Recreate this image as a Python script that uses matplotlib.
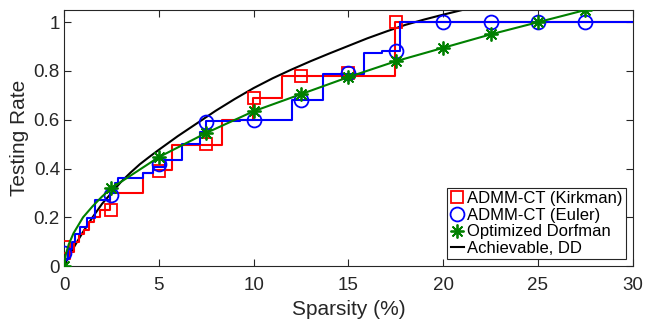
import numpy as np
import matplotlib.pyplot as plt
from matplotlib.lines import Line2D

plt.rcParams['font.family'] = ['Liberation Sans', 'DejaVu Sans']

# ADMM-CT (Kirkman) step curve
kirk_x = [0, 0.3, 0.55, 0.8, 1.05, 1.3, 1.6, 1.9, 2.42, 4.18, 4.7, 5.67, 8.31, 9.98, 11.5, 17.45, 30]
kirk_y = [0.03, 0.06, 0.10, 0.13, 0.15, 0.18, 0.20, 0.23, 0.30, 0.38, 0.395, 0.496, 0.598, 0.69, 0.78, 1.0, 1.0]
kirk_mx = [0, 2.5, 5, 7.5, 10, 12.5, 15, 17.5]
kirk_my = [0.08, 0.23, 0.39, 0.50, 0.69, 0.78, 0.79, 1.0]

# ADMM-CT (Euler) step curve
euler_x = [0, 0.2, 0.4, 0.6, 0.85, 1.2, 1.63, 2.42, 2.7, 2.87, 4.18, 4.7, 5.3, 6.2, 7.17, 7.5,
           9.28, 12.0, 13.67, 15.83, 16.75, 17.7, 30]
euler_y = [0.03, 0.07, 0.10, 0.13, 0.16, 0.197, 0.27, 0.30, 0.34, 0.36, 0.38, 0.407, 0.434, 0.50,
           0.55, 0.594, 0.60, 0.683, 0.787, 0.872, 0.881, 1.0, 1.0]
euler_mx = [0, 2.5, 5, 7.5, 10, 12.5, 15, 17.5, 20, 22.5, 25, 27.5]
euler_my = [0.055, 0.29, 0.42, 0.59, 0.60, 0.68, 0.79, 0.882, 1.0, 1.0, 1.0, 1.0]

# Optimized Dorfman
dorf_x = [0, 0.1, 0.25, 0.5, 1, 1.5, 2, 2.5, 5, 7.5, 10, 12.5, 15, 17.5, 20, 22.5, 25, 27.5]
dorf_y = [0, 0.05, 0.09, 0.135, 0.2, 0.245, 0.285, 0.32, 0.447, 0.546, 0.635, 0.705, 0.775,
          0.84, 0.895, 0.95, 1.0, 1.05]
dorf_mx = [0, 2.5, 5, 7.5, 10, 12.5, 15, 17.5, 20, 22.5, 25, 27.5]
dorf_my = [0, 0.32, 0.447, 0.546, 0.635, 0.705, 0.775, 0.84, 0.895, 0.95, 1.0, 1.05]

# Achievable, DD
dd_x = [0, 0.25, 0.5, 0.75, 1, 1.5, 2, 2.5, 3, 3.5, 4, 4.5, 5, 6, 7, 8, 9, 10, 11, 12, 13,
        14, 15, 16, 17, 18, 19, 20, 21]
dd_y = [0, 0.04, 0.075, 0.108, 0.14, 0.20, 0.255, 0.30, 0.345, 0.383, 0.418, 0.448, 0.477,
        0.533, 0.585, 0.637, 0.685, 0.73, 0.77, 0.806, 0.84, 0.872, 0.903, 0.934, 0.962,
        0.989, 1.011, 1.031, 1.05]

fig = plt.figure(figsize=(6.47, 3.23), dpi=100)
ax = fig.add_axes([0.099, 0.176, 0.879, 0.793])

lw = 1.5
ax.plot(dd_x, dd_y, color='k', lw=lw, zorder=2)
ax.plot(kirk_x, kirk_y, color='red', lw=lw, drawstyle='steps-post', zorder=3)
ax.plot(kirk_mx, kirk_my, 's', color='red', mfc='none', ms=9, mew=1.3, zorder=3)
ax.plot(euler_x, euler_y, color='blue', lw=lw, drawstyle='steps-post', zorder=4)
ax.plot(euler_mx, euler_my, 'o', color='blue', mfc='none', ms=10, mew=1.3, zorder=4)
green = (0, 0.5, 0)
ax.plot(dorf_x, dorf_y, color=green, lw=lw, zorder=5)
ax.plot(dorf_mx, dorf_my, ls='none', marker=(8, 2, 0), color=green, ms=10, mew=1.3, zorder=5)

ax.set_xlim(0, 30)
ax.set_ylim(0, 1.05)
ax.set_xticks([0, 5, 10, 15, 20, 25, 30])
ax.set_yticks([0, 0.2, 0.4, 0.6, 0.8, 1.0])
ax.set_yticklabels(['0', '0.2', '0.4', '0.6', '0.8', '1'])
ax.tick_params(direction='in', top=True, right=True, length=5, width=0.8,
               labelsize=13.5, colors='#262626')
ax.tick_params(axis='x', pad=8)
ax.tick_params(axis='y', pad=3)
for s in ax.spines.values():
    s.set_color('#262626')
    s.set_linewidth(0.8)
ax.set_xlabel('Sparsity (%)', fontsize=15, color='#262626', labelpad=4)
ax.set_ylabel('Testing Rate', fontsize=15, color='#262626', labelpad=3)

handles = [
    Line2D([], [], ls='none', marker='s', color='red', mfc='none', ms=9, mew=1.3),
    Line2D([], [], ls='none', marker='o', color='blue', mfc='none', ms=10, mew=1.3),
    Line2D([], [], ls='none', marker=(8, 2, 0), color=green, ms=10, mew=1.3),
    Line2D([], [], color='k', lw=lw),
]
labels = ['ADMM-CT (Kirkman)', 'ADMM-CT (Euler)', 'Optimized Dorfman', 'Achievable, DD']
leg = ax.legend(handles, labels, loc='lower right', fontsize=12, handlelength=0.8,
                handletextpad=0.2, borderpad=0.2, labelspacing=0.1, borderaxespad=0.4,
                fancybox=False, framealpha=1)
leg.get_frame().set_edgecolor('#262626')
leg.get_frame().set_linewidth(0.8)

fig.savefig('out.png', dpi=100)
